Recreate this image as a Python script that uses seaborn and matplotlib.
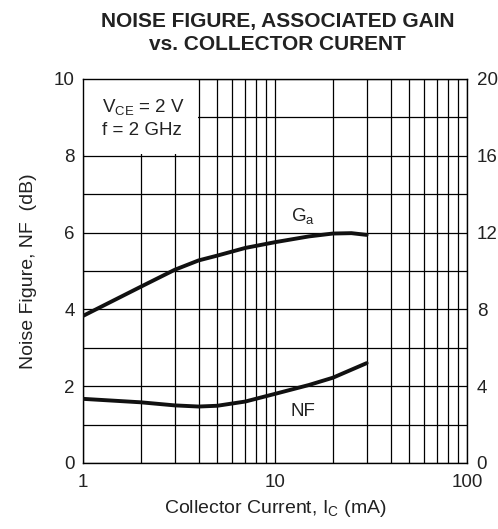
import numpy as np
import pandas as pd
import matplotlib
matplotlib.use("Agg")
import matplotlib.pyplot as plt
import seaborn as sns
from matplotlib.patches import Rectangle

# ---------- DATA ----------
ic_ga = [1, 2, 3, 4, 5, 7, 10, 15, 20, 25, 30]                        # mA
ga_db = [7.66, 9.18, 10.06, 10.55, 10.8, 11.2, 11.5, 11.8, 11.95, 11.97, 11.88]  # right axis, dB
ic_nf = [1, 2, 3, 4, 5, 7, 10, 15, 20, 30]                            # mA
nf_db = [1.67, 1.58, 1.50, 1.47, 1.49, 1.60, 1.80, 2.03, 2.22, 2.60]  # left axis, dB

left_ticks = [0, 2, 4, 6, 8, 10]
right_ticks = [0, 4, 8, 12, 16, 20]
x_ticks = [1, 10, 100]

ga_df = pd.DataFrame({"ic": ic_ga, "ga": ga_db})
nf_df = pd.DataFrame({"ic": ic_nf, "nf": nf_db})

# ---------- STYLE ----------
sns.set_theme(style="white")
plt.rcParams["font.family"] = ["Liberation Sans", "DejaVu Sans"]
plt.rcParams["mathtext.fontset"] = "custom"
plt.rcParams["mathtext.rm"] = "Liberation Sans"
plt.rcParams["mathtext.it"] = "Liberation Sans"
txt = "#222222"
fs = 13.5

fig = plt.figure(figsize=(4.98, 5.29), dpi=100)
ax = fig.add_axes([0.1667, 0.1248, 0.7711, 0.7259])

ax.set_xscale("log")
ax.set_xlim(1, 100)
ax.set_ylim(0, 10)

# grid: every dB horizontally, every log step vertically
ax.set_yticks(np.arange(0, 11, 1), minor=True)
ax.set_yticks(left_ticks)
ax.set_xticks(x_ticks)
ax.set_xticklabels(["1", "10", "100"])
ax.grid(True, which="both", color="black", linewidth=0.9)
ax.set_axisbelow(True)
for s in ax.spines.values():
    s.set_color("black")
    s.set_linewidth(1.0)
ax.tick_params(which="both", length=0, labelsize=fs, colors=txt, pad=6)
ax.tick_params(axis="x", pad=8)

# blank area behind the condition box
ax.add_patch(Rectangle((1, 8.04), 2.96, 1.96, facecolor="white",
                       edgecolor="none", zorder=0.8))
ax.text(1.25, 9.27, r"V$_{\mathregular{CE}}$ = 2 V", fontsize=fs, color=txt,
        ha="left", va="center", zorder=3)
ax.text(1.25, 8.65, "f = 2 GHz", fontsize=fs, color=txt,
        ha="left", va="center", zorder=3)

sns.lineplot(data=nf_df, x="ic", y="nf", ax=ax, color="#111111",
             linewidth=2.8, zorder=3)
ax.text(14.0, 1.34, "NF", fontsize=fs, color=txt, ha="center", va="center")
ax.text(14.0, 6.42, r"G$_{\mathregular{a}}$", fontsize=fs, color=txt,
        ha="center", va="center")

ax.set_xlabel(r"Collector Current, I$_{\mathregular{C}}$ (mA)", fontsize=14,
              color=txt, labelpad=5)
ax.set_ylabel("Noise Figure, NF  (dB)", fontsize=14, color=txt, labelpad=12)

# right axis: associated gain
ax2 = ax.twinx()
ax2.set_ylim(0, 20)
ax2.set_yticks(right_ticks)
sns.lineplot(data=ga_df, x="ic", y="ga", ax=ax2, color="#111111",
             linewidth=2.8)
ax2.set_ylabel("")
ax2.set_xlabel("")
ax2.grid(False)
for s in ax2.spines.values():
    s.set_visible(False)
ax2.tick_params(length=0, labelsize=fs, colors=txt, pad=7)

fig.text(0.557, 0.9376, "NOISE FIGURE, ASSOCIATED GAIN\nvs. COLLECTOR CURENT",
         ha="center", va="center", fontsize=15, fontweight="bold",
         color=txt, linespacing=1.25)

fig.savefig("out.png", dpi=100)
